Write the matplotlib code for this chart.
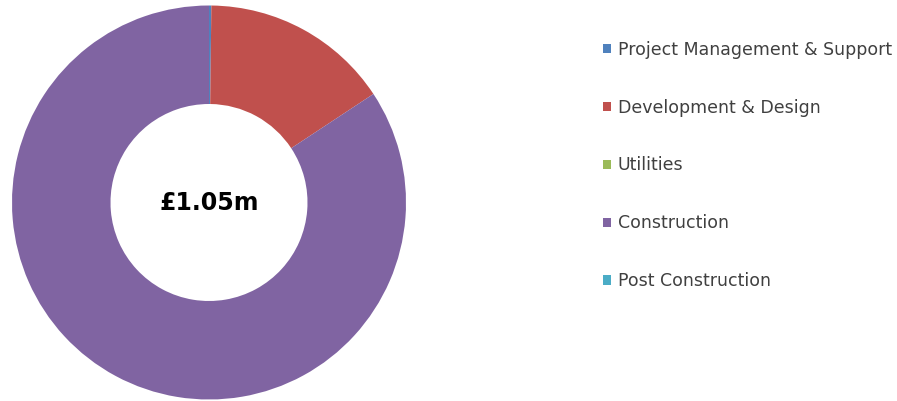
import matplotlib.pyplot as plt

# Cost breakdown (GBP)
categories = ['Project Management & Support', 'Development & Design',
              'Utilities', 'Construction', 'Post Construction']
values = [2000, 163000, 0, 885000, 0]
colors = ['#4F81BD', '#C0504D', '#9BBB59', '#8064A2', '#4BACC6']
total_label = '£1.05m'

fig = plt.figure(figsize=(8.97, 4.01), dpi=100)
ax = fig.add_axes([12 / 897, 1 / 401, 394 / 897, 395 / 401])

wedges, _ = ax.pie(values, colors=colors, startangle=90, counterclock=False,
                   radius=1.0, wedgeprops=dict(width=0.5, linewidth=0))
ax.set_xlim(-1, 1)
ax.set_ylim(-1, 1)
ax.set_aspect('equal')
ax.axis('off')

ax.text(0, 0, total_label, ha='center', va='center', fontsize=17,
        fontweight='bold', color='black')

fig.legend(wedges, categories, loc='upper left',
           bbox_to_anchor=(587 / 897, 1 - 25 / 401), frameon=False,
           fontsize=12.5, handlelength=0.46, handleheight=0.46,
           handletextpad=0.4, labelspacing=2.3, labelcolor='#404040')

fig.savefig('out.png', dpi=100)
